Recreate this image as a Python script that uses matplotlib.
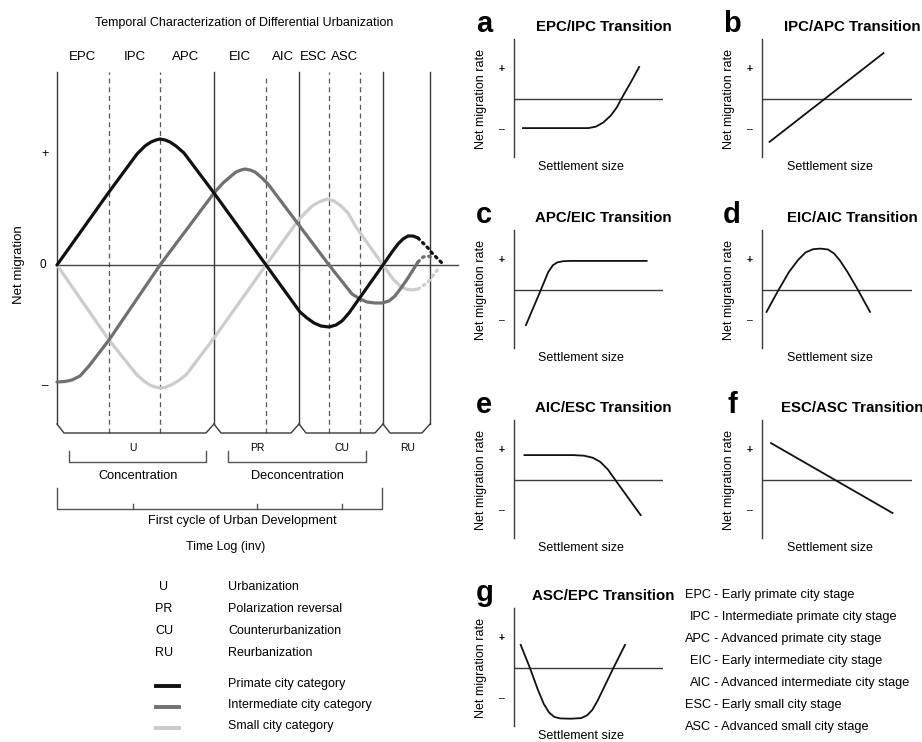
import matplotlib
matplotlib.use("Agg")
import matplotlib.pyplot as plt

plt.rcParams['font.family'] = ['Liberation Sans', 'DejaVu Sans']

W, H = 922, 742

# ---- left diagram: stages along time axis (units ~ px from origin)
stage_labels = ["EPC", "IPC", "APC", "EIC", "AIC", "ESC", "ASC"]
stage_label_x = [25, 78, 129, 183, 226, 256, 288]
solid_bounds = [0, 157, 242, 326, 373]
dashed_bounds = [52, 103, 209, 272, 303]
dashed_tops = [193, 193, 188, 193, 193]

# net migration curves
primate_x = [0, 52, 80, 88, 94, 99, 103, 108, 113, 119, 127, 157, 209, 243, 250, 257, 264, 272,
             279, 285, 292, 326, 335, 341, 346, 351, 356, 361]
primate_y = [0, 73, 111, 119, 123, 125, 126, 125, 123, 119, 112, 72, 0, -47, -53, -58, -61, -62,
             -60, -56, -48, 0, 13, 21, 26, 29, 29, 27]
primate_dot_x = [361, 365, 371, 375, 380, 385]
primate_dot_y = [27, 23, 17, 12, 7, 2]

inter_x = [0, 8, 15, 23, 32, 52, 103, 157, 166, 173, 179, 184, 188, 193, 198, 204, 211, 272,
           295, 303, 310, 318, 325, 332, 338, 344, 351, 361]
inter_y = [-117, -116.5, -115, -111, -101, -75, 0, 72, 82, 88, 93, 95, 96, 95, 93, 88, 81, 0,
           -29, -34, -37, -38, -38, -36, -31, -23, -13, 3]
inter_dot_x = [361, 366, 371, 376]
inter_dot_y = [3, 8, 9, 7]

small_x = [0, 52, 80, 87, 93, 98, 103, 108, 114, 121, 129, 157, 209, 240, 248, 255, 262, 270,
           277, 284, 291, 299, 326, 336, 343, 349, 355, 361]
small_y = [0, -75, -110, -116, -120, -122, -123, -122.5, -120, -116, -110, -73, 0, 43, 52, 59, 63, 66,
           64, 59, 52, 38, 0, -14, -21, -24, -25, -24]
small_dot_x = [361, 367, 373, 377, 381]
small_dot_y = [-24, -20, -15, -9, -4]

phase_labels = ["U", "PR", "CU", "RU"]
phase_x = [76, 200, 285, 351]

legend_abbr = ["U", "PR", "CU", "RU"]
legend_desc = ["Urbanization", "Polarization reversal", "Counterurbanization", "Reurbanization"]
category_names = ["Primate city category", "Intermediate city category", "Small city category"]
category_colors = ["#111111", "#707070", "#cccccc"]

# ---- right panels
panel_letters = ["a", "b", "c", "d", "e", "f", "g"]
panel_titles = ["EPC/IPC Transition", "IPC/APC Transition", "APC/EIC Transition",
                "EIC/AIC Transition", "AIC/ESC Transition", "ESC/ASC Transition",
                "ASC/EPC Transition"]
panel_x = [
    [0.06, 0.50, 0.55, 0.60, 0.65, 0.69, 0.72, 0.76, 0.80, 0.84],
    [0.05, 0.81],
    [0.08, 0.18, 0.23, 0.26, 0.29, 0.33, 0.38, 0.89],
    [0.03, 0.11, 0.18, 0.24, 0.29, 0.34, 0.39, 0.44, 0.48, 0.52, 0.57, 0.64, 0.72],
    [0.07, 0.40, 0.47, 0.53, 0.58, 0.63, 0.68, 0.85],
    [0.06, 0.87],
    [0.045, 0.107, 0.16, 0.20, 0.235, 0.27, 0.31, 0.38, 0.45, 0.49, 0.525, 0.56, 0.667, 0.745],
]
panel_y = [
    [-0.97, -0.97, -0.92, -0.78, -0.55, -0.28, 0, 0.35, 0.70, 1.07],
    [-1.43, 1.53],
    [-1.17, 0, 0.6, 0.82, 0.92, 0.96, 0.97, 0.97],
    [-0.73, 0, 0.6, 1.0, 1.25, 1.36, 1.38, 1.35, 1.22, 0.98, 0.6, 0, -0.73],
    [0.83, 0.83, 0.81, 0.74, 0.6, 0.35, 0, -1.17],
    [1.23, -1.1],
    [0.77, 0, -0.72, -1.2, -1.48, -1.63, -1.68, -1.69, -1.67, -1.58, -1.4, -1.1, 0, 0.77],
]
stage_abbr = ["EPC", "IPC", "APC", "EIC", "AIC", "ESC", "ASC"]
stage_desc = ["Early primate city stage", "Intermediate primate city stage",
              "Advanced primate city stage", "Early intermediate city stage",
              "Advanced intermediate city stage", "Early small city stage",
              "Advanced small city stage"]

fig = plt.figure(figsize=(W / 100, H / 100), dpi=100)

ax = fig.add_axes([0, 0, 470 / W, 1])
ax.set_xlim(-57, 413)
ax.set_ylim(-477, 265)
ax.axis('off')

frame = "#3a3a3a"
ax.text(187, 242, "Temporal Characterization of Differential Urbanization",
        ha='center', va='center', fontsize=9)
for lab, x in zip(stage_labels, stage_label_x):
    ax.text(x, 208, lab, ha='center', va='center', fontsize=9.5)

for x in solid_bounds:
    ax.plot([x, x], [-159, 193], color=frame, lw=1.0)
for x, top in zip(dashed_bounds, dashed_tops):
    ax.plot([x, x], [-168, top], color="#555555", lw=0.9, dashes=(4, 3))
# chamfered bottoms of each cell
for left, right in zip(solid_bounds[:-1], solid_bounds[1:]):
    ax.plot([left, left + 7, right - 8, right], [-159, -168, -168, -159], color=frame, lw=1.0)

ax.plot([0, 401], [0, 0], color="#444444", lw=1.0)
ax.text(-12, 111, "+", ha='center', va='center', fontsize=9)
ax.text(-14, 0, "0", ha='center', va='center', fontsize=8.5)
ax.text(-12, -121, "–", ha='center', va='center', fontsize=8.5)
ax.text(-38, 0, "Net migration", rotation=90, ha='center', va='center', fontsize=9.5)

ax.plot(small_x, small_y, color=category_colors[2], lw=2.3, solid_capstyle='round', zorder=3)
ax.plot(small_dot_x, small_dot_y, color=category_colors[2], lw=2.3, dashes=(0.6, 1.4),
        dash_capstyle='round', zorder=3)
ax.plot(inter_x, inter_y, color=category_colors[1], lw=2.3, solid_capstyle='round', zorder=4)
ax.plot(inter_dot_x, inter_dot_y, color=category_colors[1], lw=2.3, dashes=(0.6, 1.4),
        dash_capstyle='round', zorder=4)
ax.plot(primate_x, primate_y, color=category_colors[0], lw=2.3, solid_capstyle='round', zorder=5)
ax.plot(primate_dot_x, primate_dot_y, color=category_colors[0], lw=2.3, dashes=(0.6, 1.4),
        dash_capstyle='round', zorder=5)

for lab, x in zip(phase_labels, phase_x):
    ax.text(x, -183, lab, ha='center', va='center', fontsize=7.5)

br = "#555555"
ax.plot([12, 12, 149, 149], [-186, -197, -197, -186], color=br, lw=1.0)
ax.plot([171, 171, 309, 309], [-186, -197, -197, -186], color=br, lw=1.0)
ax.text(81, -211, "Concentration", ha='center', va='center', fontsize=9.2)
ax.text(240, -211, "Deconcentration", ha='center', va='center', fontsize=9.2)
ax.plot([0, 0, 325, 325], [-223, -244, -244, -223], color=br, lw=1.0)
for x in phase_x[:3]:
    ax.plot([x, x], [-244, -239], color=br, lw=1.0)
ax.text(185, -256, "First cycle of Urban Development", ha='center', va='center', fontsize=9.2)
ax.text(169, -282, "Time Log (inv)", ha='center', va='center', fontsize=9)

for i, (a, d) in enumerate(zip(legend_abbr, legend_desc)):
    y = -322 - 22 * i
    ax.text(107, y, a, ha='center', va='center', fontsize=9)
    ax.text(171, y, d, ha='left', va='center', fontsize=9)
for i, (name, col) in enumerate(zip(category_names, category_colors)):
    y = -421 - 21 * i
    ax.plot([99, 122], [y, y], color=col, lw=2.8)
    ax.text(171, y + 2, name, ha='left', va='center', fontsize=9)

# ---- small transition panels
col_x = [514, 762]
col_w = [149, 150]
row_h = [99, 290, 480, 668]
for i in range(7):
    c, r = i % 2, i // 2
    x0, w, hl = col_x[c], col_w[c], row_h[r]
    pa = fig.add_axes([x0 / W, 1 - (hl + 58) / H, w / W, 118 / H])
    pa.set_xlim(0, 1)
    pa.set_ylim(-58 / 30, 60 / 30)
    for s in ['top', 'right', 'bottom']:
        pa.spines[s].set_visible(False)
    pa.spines['left'].set_color(frame)
    pa.spines['left'].set_linewidth(1.0)
    pa.set_xticks([])
    pa.set_yticks([])
    pa.patch.set_alpha(0)
    pa.axhline(0, color=frame, lw=1.0)
    pa.plot(panel_x[i], panel_y[i], color="#111111", lw=1.3)
    kw = dict(clip_on=False)
    pa.text(-12 / w, 1, "+", ha='center', va='center', fontsize=7.5, fontweight='bold', **kw)
    pa.text(-12 / w, -1, "–", ha='center', va='center', fontsize=7.5, **kw)
    pa.text(-0.22, 0, "Net migration rate", rotation=90, ha='center', va='center', fontsize=9, **kw)
    pa.text(0.45, -68 / 30, "Settlement size", ha='center', va='center', fontsize=9, **kw)
    pa.text(0.6, 2.27, panel_titles[i], ha='center', va='baseline', fontsize=10.8,
            fontweight='bold', **kw)
    pa.text(-0.2, 2.23, panel_letters[i], ha='center', va='baseline', fontsize=21,
            fontweight='bold', **kw)

for i, (a, d) in enumerate(zip(stage_abbr, stage_desc)):
    y = 595 + 22 * i
    fig.text(711 / W, 1 - y / H, a, ha='right', va='center', fontsize=9.2)
    fig.text(714 / W, 1 - y / H, "- " + d, ha='left', va='center', fontsize=9.2)

fig.savefig("out.png", dpi=100)
